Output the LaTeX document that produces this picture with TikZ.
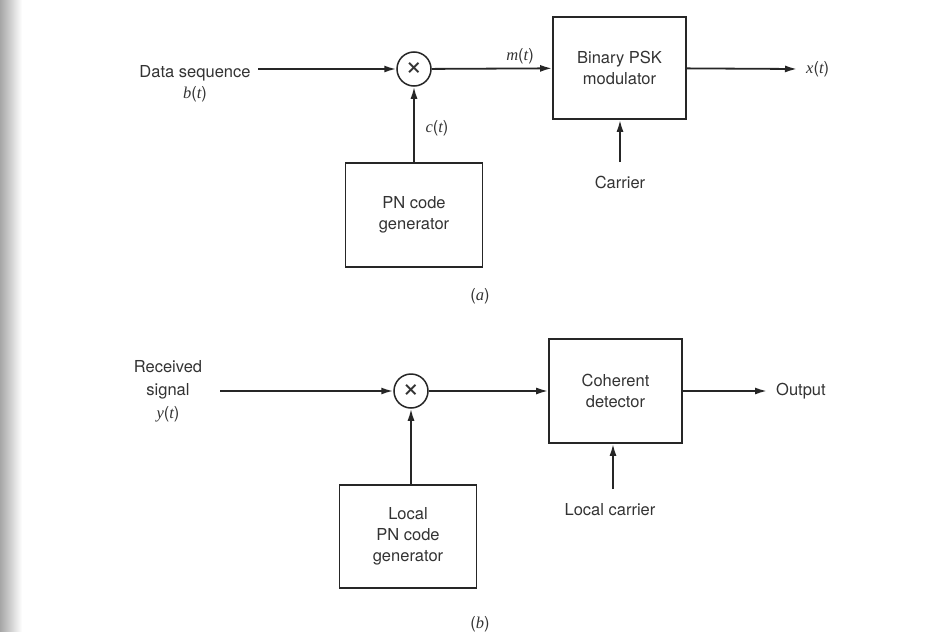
\documentclass[tikz,border=0pt]{standalone}
\usepackage{fontspec}
\setmainfont{TeX Gyre Heros}
\newfontfamily\lblfont{Liberation Serif}
\usetikzlibrary{arrows.meta}
\newcommand{\sig}[1]{{\lblfont\itshape #1}}
\begin{document}
\begin{tikzpicture}[x=1pt,y=-1pt,
  every node/.style={font=\fontsize{16.5}{21}\selectfont, text=black!80},
  blk/.style={draw=black!85, line width=1.8pt, align=center, inner sep=0pt},
  mult/.style={draw=black!85, circle, line width=1.5pt, minimum size=34pt, inner sep=0pt, font=\fontsize{30}{30}\selectfont},
  sigl/.style={draw=black!85, line width=1.8pt, -{Latex[length=12pt,width=7pt]}},
  lbl/.style={align=center, inner sep=1pt}
]
\path[use as bounding box, fill=white] (0,0) rectangle (946,632);
\shade[left color=black!35, right color=white] (0,0) rectangle (22,632);

% ---------- (a) transmitter ----------
\node[mult] (m1) at (414,69) {×};
\node[blk, minimum width=133pt, minimum height=102pt] (psk) at (619.5,68) {Binary PSK\\modulator};
\node[blk, minimum width=137pt, minimum height=104pt] (pn) at (414,215) {PN code\\generator};
\node[lbl] (din) at (195,84) {Data sequence\\\sig{b}(\sig{t})};
\coordinate (in1) at (258,69);
\coordinate (out1) at (797,69);
\coordinate (car) at (620,162);
\node[lbl, anchor=west] (xt) at (805,69) {\sig{x}(\sig{t})};
\node[lbl] (carlbl) at (620,182) {Carrier};
\node[lbl] (ct) at (437,128) {\sig{c}(\sig{t})};
\node[lbl] (mt) at (520,56) {\sig{m}(\sig{t})};
\node[lbl] (capa) at (480,296) {(\sig{a})};

\draw[sigl] (in1) -- (m1);
\draw[sigl] (m1) -- (psk);
\draw[sigl] (psk) -- (out1);
\draw[sigl] (pn) -- (m1);
\draw[sigl] (car) -- (psk.south -| car);

% ---------- (b) receiver ----------
\node[mult] (m2) at (411,391) {×};
\node[blk, minimum width=133pt, minimum height=104pt] (coh) at (615.5,391) {Coherent\\detector};
\node[blk, minimum width=137pt, minimum height=103pt] (lpn) at (408,536.5) {Local\\PN code\\generator};
\node[lbl, font=\fontsize{16.5}{23}\selectfont] (rin) at (168,391) {Received\\signal\\\sig{y}(\sig{t})};
\coordinate (in2) at (220,391);
\coordinate (out2) at (767,391);
\coordinate (lcar) at (613,489);
\node[lbl, anchor=west] (outlbl) at (775,391) {Output};
\node[lbl] (lcarlbl) at (610,510) {Local carrier};
\node[lbl] (capb) at (480,624) {(\sig{b})};

\draw[sigl] (in2) -- (m2);
\draw[sigl] (m2) -- (coh);
\draw[sigl] (coh) -- (out2);
\draw[sigl] (lpn.north -| m2) -- (m2);
\draw[sigl] (lcar) -- (coh.south -| lcar);
\end{tikzpicture}
\end{document}
